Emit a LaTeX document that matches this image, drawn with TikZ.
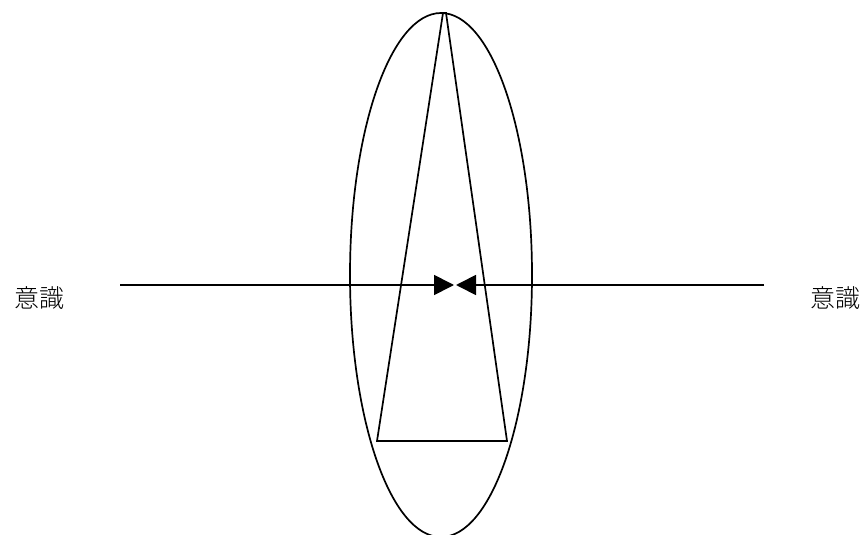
\documentclass[tikz,border=0pt]{standalone}
\usepackage{fontspec}
\newfontfamily\cjk{Noto Sans CJK JP Light}
\usetikzlibrary{arrows.meta}
\begin{document}
\begin{tikzpicture}[x=1pt,y=-1pt,
  lbl/.style={font=\cjk\fontsize{25}{28}\selectfont, inner sep=0pt, anchor=center},
  ln/.style={line width=1.7pt, black},
  arr/.style={ln, -{Triangle[length=20pt,width=20pt]}}]
\useasboundingbox (0,0) rectangle (868,535);
\begin{scope}
\clip (0,0) rectangle (868,535);
\draw[ln] (441,275) ellipse [x radius=91, y radius=262];
\end{scope}
\draw[ln] (443,13) -- (446,13) -- (507,441) -- (377,441) -- cycle;
\coordinate (L) at (120,285);
\coordinate (R) at (764,285);
\coordinate (M1) at (454,285);
\coordinate (M2) at (456,285);
\draw[arr] (L) -- (M1);
\draw[arr] (R) -- (M2);
\node[lbl] (tl) at (39,298) {意識};
\node[lbl] (tr) at (835,298) {意識};
\end{tikzpicture}
\end{document}
